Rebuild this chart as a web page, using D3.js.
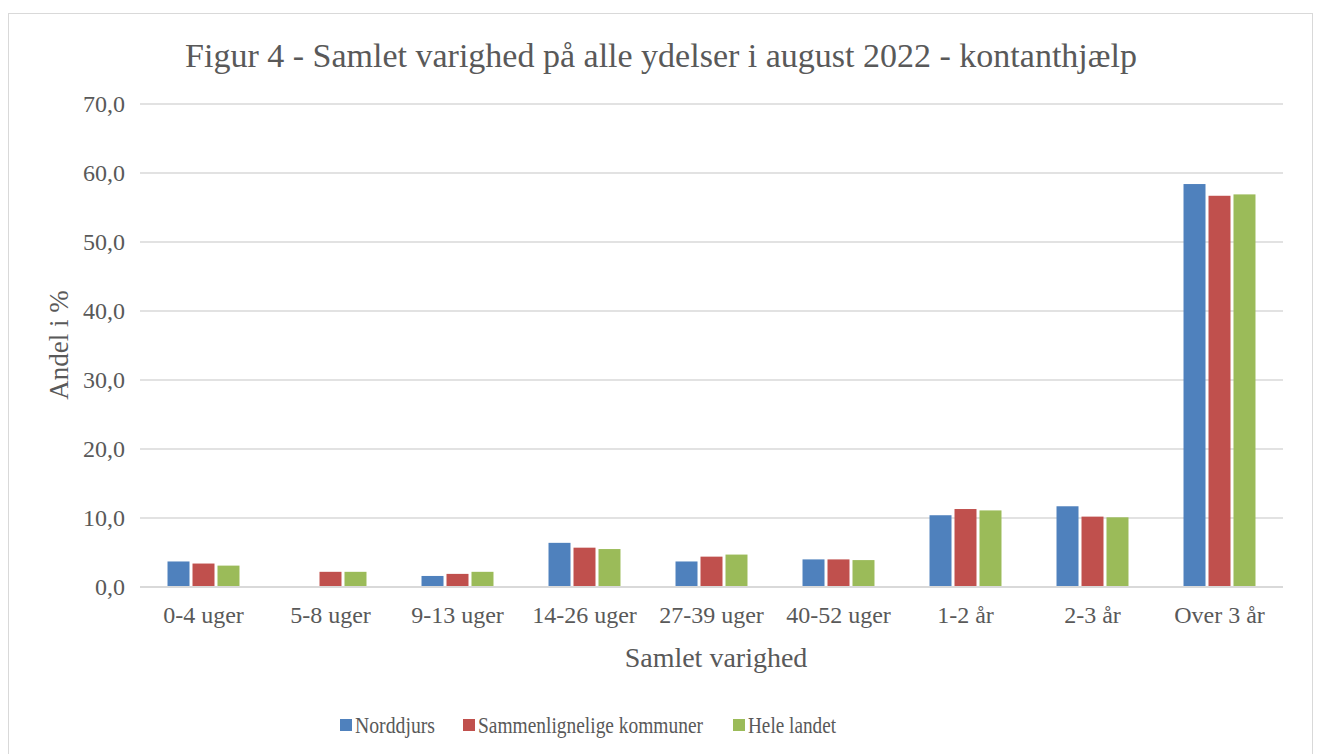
<!DOCTYPE html>
<html>
<head>
<meta charset="utf-8">
<script src="https://cdn.jsdelivr.net/npm/d3@7"></script>
<style>
  body { margin: 0; background: #fff; }
  text { font-family: "Liberation Serif", Cambria, serif; fill: #595959; }
</style>
</head>
<body>
<div id="chart"></div>
<script>
// data
const categories = ["0-4 uger", "5-8 uger", "9-13 uger", "14-26 uger", "27-39 uger", "40-52 uger", "1-2 år", "2-3 år", "Over 3 år"];
const seriesNames = ["Norddjurs", "Sammenlignelige kommuner", "Hele landet"];
const norddjurs = [3.7, 0, 1.6, 6.4, 3.7, 4.0, 10.4, 11.7, 58.4];
const sammenlignelige = [3.4, 2.2, 1.9, 5.7, 4.4, 4.0, 11.3, 10.2, 56.7];
const heleLandet = [3.1, 2.2, 2.2, 5.5, 4.7, 3.9, 11.1, 10.1, 56.9];
const yTicks = [0, 10, 20, 30, 40, 50, 60, 70];
const colors = ["#4F81BD", "#C0504D", "#9BBB59"];

const width = 1318, height = 754;
const margin = { top: 104, right: 35, bottom: 167, left: 140 };

const svg = d3.select("#chart").append("svg")
  .attr("width", width)
  .attr("height", height);

// chart area border
svg.append("rect")
  .attr("x", 8.5).attr("y", 13.5)
  .attr("width", 1304).attr("height", 760)
  .attr("fill", "#fff")
  .attr("stroke", "#D9D9D9");

const x0 = d3.scaleBand()
  .domain(categories)
  .range([margin.left, width - margin.right])
  .paddingInner(0.386)
  .paddingOuter(0.193);

const x1 = d3.scaleBand()
  .domain(seriesNames)
  .range([0, x0.bandwidth()])
  .padding(0.12);

const y = d3.scaleLinear()
  .domain([0, 70])
  .range([height - margin.bottom, margin.top]);

// gridlines
svg.append("g")
  .selectAll("line")
  .data(yTicks.filter(d => d > 0))
  .join("line")
  .attr("x1", margin.left).attr("x2", width - margin.right)
  .attr("y1", d => y(d)).attr("y2", d => y(d))
  .attr("stroke", "#D9D9D9")
  .attr("stroke-width", 1.3);

// y axis labels
const yAxis = svg.append("g")
  .attr("transform", `translate(${margin.left},0)`)
  .call(d3.axisLeft(y).tickValues(yTicks).tickSize(0).tickPadding(15)
    .tickFormat(d => d3.format(".1f")(d).replace(".", ",")));
yAxis.select(".domain").remove();
yAxis.selectAll("text").style("font-size", "24px").attr("fill", "#595959");

// bars
const rows = categories.map((c, i) => ({
  cat: c,
  values: [norddjurs[i], sammenlignelige[i], heleLandet[i]]
}));

svg.append("g")
  .selectAll("g")
  .data(rows)
  .join("g")
  .attr("transform", d => `translate(${x0(d.cat)},0)`)
  .selectAll("rect")
  .data(d => d.values.map((v, j) => ({ name: seriesNames[j], v, j })))
  .join("rect")
  .attr("x", d => x1(d.name))
  .attr("width", x1.bandwidth())
  .attr("y", d => y(d.v))
  .attr("height", d => y(0) - y(d.v))
  .attr("fill", d => colors[d.j]);

// x axis
const xAxis = svg.append("g")
  .attr("transform", `translate(0,${y(0)})`)
  .call(d3.axisBottom(x0).tickSize(0).tickPadding(19));
xAxis.select(".domain")
  .attr("stroke", "#D9D9D9")
  .attr("stroke-width", 2)
  .attr("d", `M${margin.left},0H${width - margin.right}`);
xAxis.selectAll("text").style("font-size", "24px").attr("fill", "#595959");

// title
svg.append("text")
  .attr("x", 661).attr("y", 67)
  .attr("text-anchor", "middle")
  .style("font-size", "34px")
  .text("Figur 4 - Samlet varighed på alle ydelser i august 2022 - kontanthjælp");

// axis titles
svg.append("text")
  .attr("x", 716).attr("y", 667)
  .attr("text-anchor", "middle")
  .style("font-size", "28px")
  .text("Samlet varighed");

svg.append("text")
  .attr("transform", "translate(68,345) rotate(-90)")
  .attr("text-anchor", "middle")
  .style("font-size", "27px")
  .text("Andel i %");

// legend
const legendX = [340, 463, 733];
const legendW = [80, 225, 88];
const legend = svg.append("g")
  .selectAll("g")
  .data(seriesNames)
  .join("g")
  .attr("transform", (d, i) => `translate(${legendX[i]},719)`);
legend.append("rect")
  .attr("width", 12).attr("height", 12)
  .attr("fill", (d, i) => colors[i]);
legend.append("text")
  .attr("x", 15).attr("y", 14)
  .style("font-size", "23px")
  .attr("textLength", (d, i) => legendW[i])
  .attr("lengthAdjust", "spacingAndGlyphs")
  .text(d => d);
</script>
</body>
</html>
